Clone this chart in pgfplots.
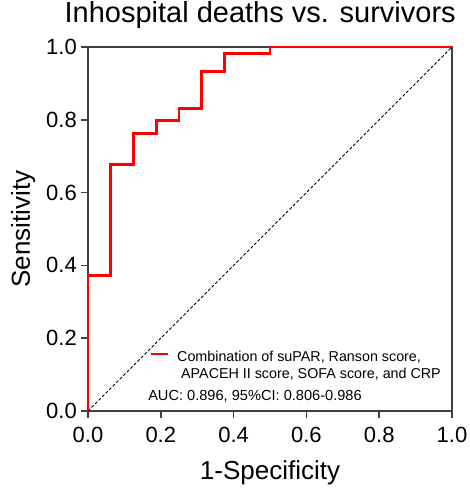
\documentclass[border=0pt]{standalone}
\usepackage{fontspec}
\setmainfont{Liberation Sans}
\usepackage{pgfplots}
\pgfplotsset{compat=1.18}

\begin{document}
\begin{tikzpicture}
\useasboundingbox (-88pt,-77pt) rectangle (382pt,411pt);
\begin{axis}[
  scale only axis,
  width=364pt, height=364pt,
  xmin=0, xmax=1, ymin=0, ymax=1,
  enlargelimits=false,
  clip=false,
  axis line style={black!75, line width=1.6pt},
  every tick/.style={black!75, line width=1.6pt},
  major tick length=7pt,
  tick align=outside,
  xtick pos=left, ytick pos=left,
  xtick={0,0.2,...,1}, ytick={0,0.2,...,1},
  /pgf/number format/.cd, fixed, fixed zerofill, precision=1, assume math mode=true,
  /pgfplots/.cd,
  tick label style={font=\fontsize{22}{26}\selectfont, inner sep=0pt},
  xticklabel style={anchor=north, yshift=-9pt},
  yticklabel style={anchor=east, xshift=-4pt},
  title={Inhospital deaths vs. survivors},
  title style={font=\fontsize{29}{34}\selectfont, at={(axis description cs:0.473,1.0495)}, anchor=base, inner sep=0pt},
  xlabel={1-Specificity},
  xlabel style={font=\fontsize{26}{30}\selectfont, at={(axis description cs:0.5,-0.187)}, anchor=base, inner sep=0pt},
  ylabel={Sensitivity},
  ylabel style={font=\fontsize{26}{30}\selectfont, at={(axis description cs:-0.16,0.5)}, anchor=base, rotate=0, inner sep=0pt},
]
\addplot[black, line width=0.9pt, dash pattern=on 3pt off 2pt] coordinates {(0,0) (1,1)};
\addplot[red, line width=2.8pt, line join=miter] coordinates {
  (0,0) (0,0.373) (0.0625,0.373) (0.0625,0.678) (0.125,0.678) (0.125,0.763)
  (0.1875,0.763) (0.1875,0.797) (0.25,0.797) (0.25,0.831) (0.3125,0.831)
  (0.3125,0.932) (0.375,0.932) (0.375,0.983) (0.5,0.983) (0.5,1) (1,1)
};
\draw[red, line width=2.6pt] (axis cs:0.173,0.157) -- (axis cs:0.22,0.157);
\node[anchor=base west, inner sep=0pt, font=\fontsize{14.3}{18}\selectfont] at (axis cs:0.2445,0.137) {Combination of suPAR, Ranson score,};
\node[anchor=base west, inner sep=0pt, font=\fontsize{14.3}{18}\selectfont] at (axis cs:0.2555,0.088) {APACEH II score, SOFA score, and CRP};
\node[anchor=base west, inner sep=0pt, font=\fontsize{14.6}{18}\selectfont] at (axis cs:0.165,0.0275) {AUC: 0.896, 95\%CI: 0.806-0.986};
\end{axis}
\end{tikzpicture}
\end{document}
